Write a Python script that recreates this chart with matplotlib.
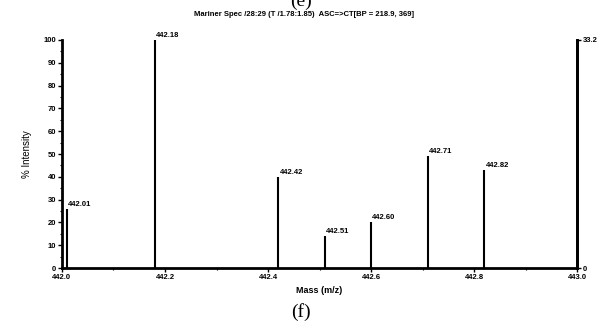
import matplotlib
matplotlib.use("Agg")
import matplotlib.pyplot as plt
from matplotlib.ticker import MultipleLocator

plt.rcParams['font.family'] = ['Liberation Sans', 'DejaVu Sans']

# peak positions (m/z) and relative intensity (%)
mass = [442.01, 442.18, 442.42, 442.51, 442.60, 442.71, 442.82]
intensity = [26, 100, 40, 14, 20, 49, 43]
peak_labels = ['442.01', '442.18', '442.42', '442.51', '442.60', '442.71', '442.82']
x_ticks = [442.0, 442.2, 442.4, 442.6, 442.8, 443.0]
x_ticklabels = ['442.0', '442.2', '442.4', '442.6', '442.8', '443.0']
y_ticks = [0, 10, 20, 30, 40, 50, 60, 70, 80, 90, 100]
right_ticklabels = ['0', '33.2']

fig = plt.figure(figsize=(6.07, 3.27), dpi=100)
ax = fig.add_axes([0.102, 0.180, 0.849, 0.698])

ax.vlines(mass, 0, intensity, color='black', linewidth=1.5)
for m, h, lab in zip(mass, intensity, peak_labels):
    ax.text(m + 0.002, h + 0.5, lab, fontsize=5.5, fontweight='bold', ha='left', va='bottom')

ax.set_xlim(442.0, 443.0)
ax.set_ylim(0, 100)
ax.set_xticks(x_ticks)
ax.set_xticklabels(x_ticklabels)
ax.xaxis.set_minor_locator(MultipleLocator(0.1))
ax.set_yticks(y_ticks)
ax.yaxis.set_minor_locator(MultipleLocator(5))
ax.tick_params(axis='both', which='major', labelsize=5.5, length=3, width=1, pad=1)
ax.tick_params(axis='both', which='minor', length=1.5, width=0.8)
for t in ax.get_xticklabels() + ax.get_yticklabels():
    t.set_fontweight('bold')

ax.spines['top'].set_visible(False)
for s in ['left', 'bottom', 'right']:
    ax.spines[s].set_linewidth(2)

ax2 = ax.twinx()
ax2.set_ylim(0, 100)
ax2.set_yticks([0, 100])
ax2.set_yticklabels(right_ticklabels)
ax2.tick_params(axis='y', labelsize=5.5, length=3, width=1, pad=1)
for t in ax2.get_yticklabels():
    t.set_fontweight('bold')
for s in ['top', 'left', 'bottom']:
    ax2.spines[s].set_visible(False)
ax2.spines['right'].set_linewidth(2)

ax.set_xlabel('Mass (m/z)', fontsize=6.5, fontweight='bold', labelpad=4)
ax.set_ylabel('% Intensity', fontsize=7, labelpad=8)

fig.text(0.5, 0.957, 'Mariner Spec /28:29 (T /1.78:1.85)  ASC=>CT[BP = 218.9, 369]',
         fontsize=5.5, fontweight='bold', ha='center', va='center')
fig.text(0.496, 0.995, '(e)', fontsize=14, family='Liberation Serif', ha='center', va='center')
fig.text(0.496, 0.045, '(f)', fontsize=14, family='Liberation Serif', ha='center', va='center')

fig.savefig('out.png', dpi=100)
